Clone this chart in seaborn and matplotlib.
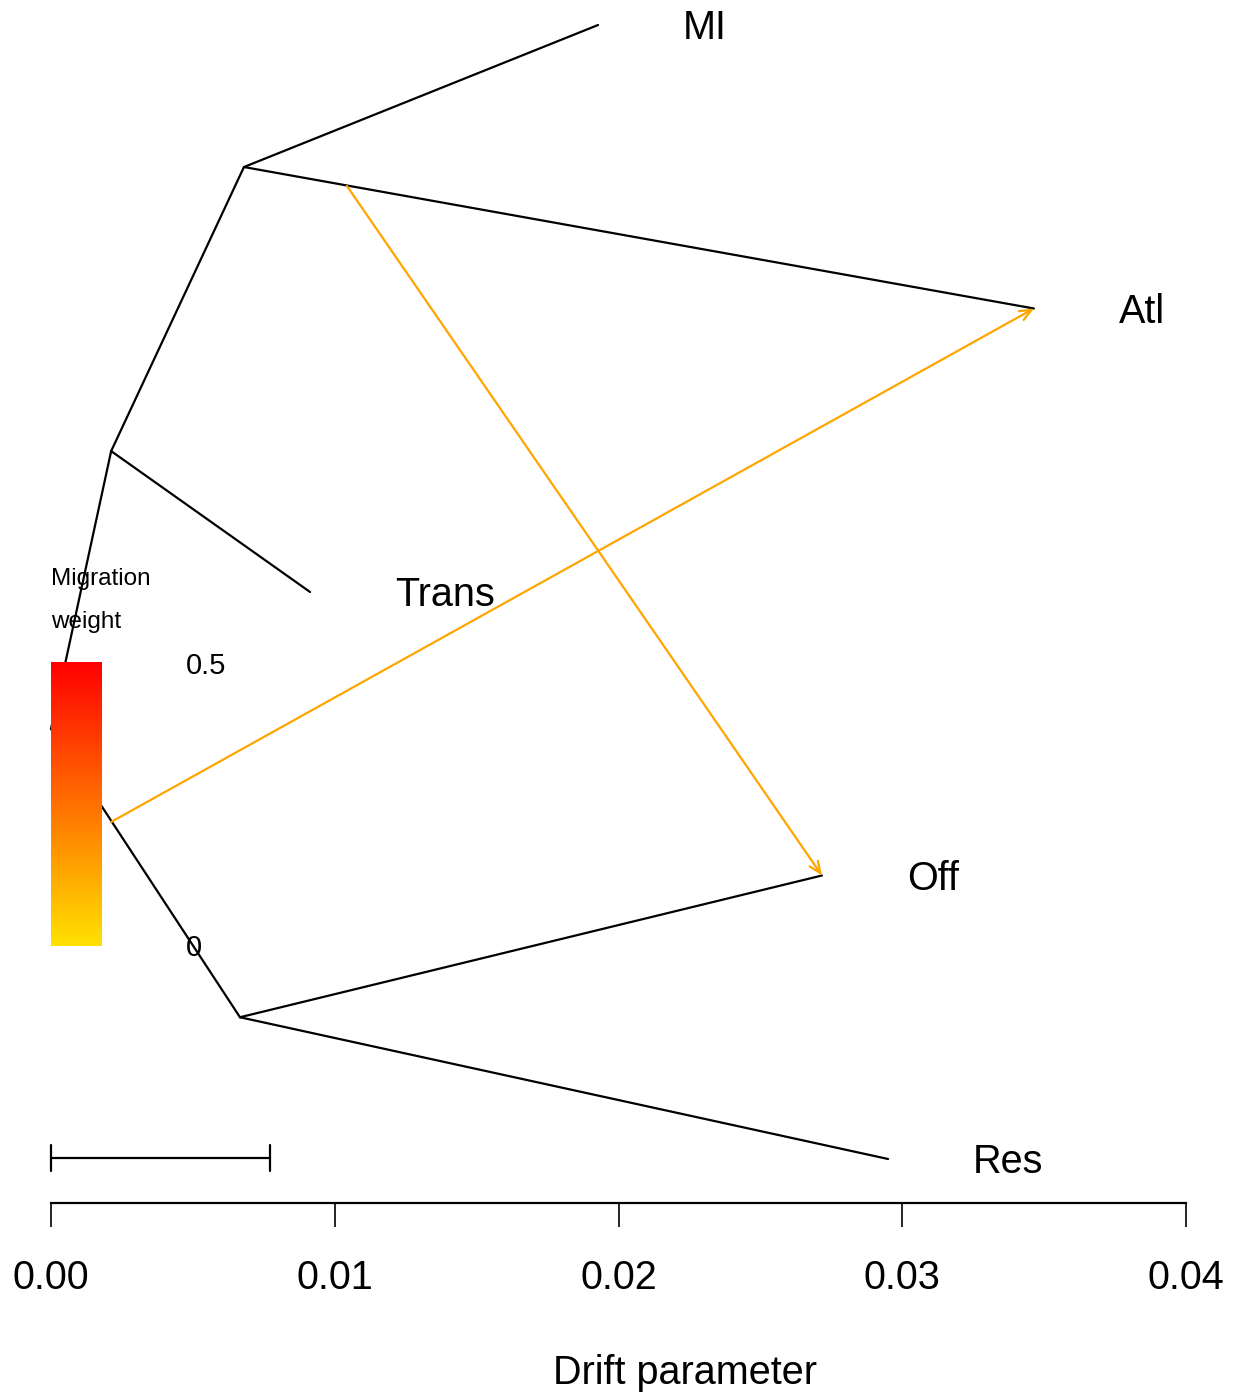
import numpy as np
import pandas as pd
import colorsys
import matplotlib
matplotlib.use("Agg")
import matplotlib.pyplot as plt
from matplotlib.colors import ListedColormap
import seaborn as sns

# ---- data (drift x, vertical position y) ----
node_names = ["root", "A", "C", "B", "MI", "Atl", "Trans", "Off", "Res"]
node_x = [0.0, 0.00212, 0.00680, 0.00666, 0.01928, 0.03464, 0.00913, 0.02717, 0.02950]
node_y = [2.517, 3.497, 4.499, 1.500, 5.0, 4.0, 3.0, 2.0, 1.0]
edge_from = ["root", "A", "C", "C", "A", "root", "B", "B"]
edge_to = ["A", "C", "MI", "Atl", "Trans", "B", "Off", "Res"]
tip_labels = ["MI", "Atl", "Trans", "Off", "Res"]

mig_from_x = [0.01043, 0.00212]
mig_from_y = [4.432, 2.189]
mig_to = ["Off", "Atl"]
mig_color = "#FFA500"

scale_bar_len = 0.00772
x_ticks = [0.00, 0.01, 0.02, 0.03, 0.04]
x_tick_labels = ["0.00", "0.01", "0.02", "0.03", "0.04"]
legend_ticks = ["0.5", "0"]

# ---- setup ----
sns.set_theme(style="white")
plt.rcParams["font.family"] = ["Liberation Sans", "DejaVu Sans"]
plt.rcParams["text.color"] = "black"
plt.rcParams["xtick.color"] = "black"
plt.rcParams["xtick.labelcolor"] = "black"

W, H = 1242, 1392
fig = plt.figure(figsize=(W / 100, H / 100), dpi=100)
ax = fig.add_axes([0, 0, 1, 1])
PXX = 28375.0   # px per data unit in x
PXY = 283.5     # px per data unit in y
x0px = 51
ax.set_xlim(-x0px / PXX, (W - x0px) / PXX)
ax.set_ylim(1 - (H - 1159) / PXY, 1 + 1159 / PXY)


def ctext(x, y, s, size, **kw):
    """Place text so that its cap-height centre sits at y (data)."""
    off = 0.358 * size * 100 / 72 / PXY
    ax.text(x, y - off, s, fontsize=size, va="baseline", color="black", **kw)


pos = {n: (x, y) for n, x, y in zip(node_names, node_x, node_y)}

rows = []
for i, (a, b) in enumerate(zip(edge_from, edge_to)):
    rows.append({"edge": i, "order": 0, "x": pos[a][0], "y": pos[a][1]})
    rows.append({"edge": i, "order": 1, "x": pos[b][0], "y": pos[b][1]})
df = pd.DataFrame(rows)
sns.lineplot(data=df, x="x", y="y", units="edge", estimator=None, sort=False,
             color="black", lw=1.6, ax=ax, legend=False, zorder=2)

# tip labels
for t in tip_labels:
    ctext(pos[t][0] + 0.003, pos[t][1], t, 28.5, ha="left")

# migration arrows
for fx, fy, t in zip(mig_from_x, mig_from_y, mig_to):
    ax.annotate("", xy=pos[t], xytext=(fx, fy),
                arrowprops=dict(arrowstyle="->,head_length=0.7,head_width=0.3",
                                color=mig_color, lw=1.6, shrinkA=0, shrinkB=0),
                zorder=3)

# legend colour bar (heat colours, yellow -> red)
hues = np.linspace(0.147, 0.0, 256)
cols = [colorsys.hsv_to_rgb(h, 1, 1) for h in hues]
cmap = ListedColormap(cols)
grad = np.linspace(0, 1, 256).reshape(-1, 1)
bar_x0, bar_x1 = 0.0, 50 / PXX
bar_y0, bar_y1 = 1 + (1159 - 946) / PXY, 1 + (1159 - 662) / PXY
ax.imshow(grad, cmap=cmap, origin="lower", aspect="auto",
          extent=[bar_x0, bar_x1, bar_y0, bar_y1], zorder=4)
lab_x = 135 / PXX
ctext(lab_x, 1 + (1159 - 664) / PXY, legend_ticks[0], 21, ha="left", zorder=5)
ctext(lab_x, 1 + (1159 - 946) / PXY, legend_ticks[1], 21, ha="left", zorder=5)
ctext(0.0, 1 + (1159 - 576) / PXY, "Migration", 17.5, ha="left", zorder=5)
ctext(0.0, 1 + (1159 - 619) / PXY, "weight", 17.5, ha="left", zorder=5)

# scale bar
sb_y = 1 + (1159 - 1158) / PXY
tk = 13 / PXY
ax.plot([0, scale_bar_len], [sb_y, sb_y], color="black", lw=1.6)
for xx in (0, scale_bar_len):
    ax.plot([xx, xx], [sb_y - tk, sb_y + tk], color="black", lw=1.6)

# x axis
for s in ["top", "right", "left"]:
    ax.spines[s].set_visible(False)
ax.spines["bottom"].set_position(("data", 1 + (1159 - 1203) / PXY))
ax.spines["bottom"].set_bounds(0, 0.04)
ax.spines["bottom"].set_color("black")
ax.spines["bottom"].set_linewidth(1.6)
ax.set_xticks(x_ticks)
ax.set_xticklabels(x_tick_labels)
ax.tick_params(axis="x", direction="out", length=17.5, width=1.2, color="black",
               labelsize=28.5, pad=23, bottom=True, labelcolor="black")
ax.set_yticks([])
ax.set_xlabel("")
ax.set_ylabel("")
ctext(685 / PXX - x0px / PXX, 1 + (1159 - 1370) / PXY, "Drift parameter", 28.5, ha="center")

fig.savefig("out.png", dpi=100)
